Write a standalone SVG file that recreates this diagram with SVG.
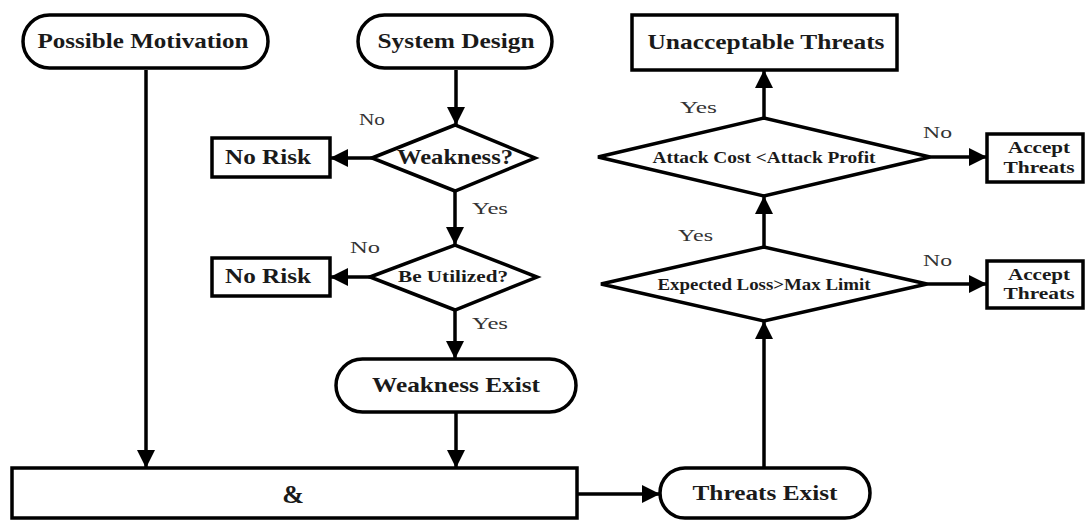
<svg xmlns="http://www.w3.org/2000/svg" width="1086" height="520" viewBox="0 0 1086 520">
<defs>
<marker id="ah" markerUnits="userSpaceOnUse" markerWidth="18" markerHeight="18" refX="16" refY="8" orient="auto" viewBox="0 0 16 16">
<path d="M0,0 L16,8 L0,16 z" fill="#000"/>
</marker>
<style>
.shape{fill:#fff;stroke:#000;stroke-width:3.5}
.conn{fill:none;stroke:#000;stroke-width:3.5;marker-end:url(#ah)}
.t{font-family:"Liberation Serif","Times New Roman",serif;font-weight:bold;fill:#1a1a1a;text-anchor:middle}
.b20{font-size:21px}
.b15{font-size:16px}
.b17{font-size:17px}
.lbl{font-family:"Liberation Serif","Times New Roman",serif;font-size:16px;fill:#333}
</style>
</defs>
<rect width="1086" height="520" fill="#fff"/>
<g id="connectors">
<line class="conn" x1="146" y1="70" x2="146" y2="468"/>
<line class="conn" x1="456" y1="70" x2="456" y2="125"/>
<line class="conn" x1="372" y1="158" x2="330" y2="158"/>
<line class="conn" x1="455" y1="191" x2="455" y2="245"/>
<line class="conn" x1="370" y1="277" x2="330" y2="277"/>
<line class="conn" x1="455" y1="310" x2="455" y2="359"/>
<line class="conn" x1="456" y1="412" x2="456" y2="468"/>
<line class="conn" x1="577" y1="494" x2="660" y2="494"/>
<line class="conn" x1="764" y1="468" x2="764" y2="321"/>
<line class="conn" x1="764" y1="247" x2="764" y2="196"/>
<line class="conn" x1="764" y1="118" x2="764" y2="70"/>
<line class="conn" x1="930" y1="157" x2="987" y2="157"/>
<line class="conn" x1="927" y1="284" x2="987" y2="284"/>
</g>
<g id="possible-motivation">
<rect class="shape" x="23" y="15" width="245" height="53" rx="26.5"/>
<text class="t b20" x="143" y="48" textLength="211" lengthAdjust="spacingAndGlyphs">Possible Motivation</text>
</g>
<g id="system-design">
<rect class="shape" x="358" y="15" width="194" height="53" rx="26.5"/>
<text class="t b20" x="456" y="48" textLength="157" lengthAdjust="spacingAndGlyphs">System Design</text>
</g>
<g id="weakness">
<polygon class="shape" points="372,158 455,125 535,158 455,191"/>
<text class="t b20" x="455" y="164" textLength="116" lengthAdjust="spacingAndGlyphs">Weakness?</text>
</g>
<g id="no-risk-1">
<rect class="shape" x="212" y="138" width="118" height="39"/>
<text class="t b20" x="268" y="164" textLength="86" lengthAdjust="spacingAndGlyphs">No Risk</text>
</g>
<g id="be-utilized">
<polygon class="shape" points="370,277 455,245 537,277 455,310"/>
<text class="t b15" x="453" y="282" textLength="110" lengthAdjust="spacingAndGlyphs">Be Utilized?</text>
</g>
<g id="no-risk-2">
<rect class="shape" x="212" y="258" width="118" height="38"/>
<text class="t b20" x="268" y="283" textLength="86" lengthAdjust="spacingAndGlyphs">No Risk</text>
</g>
<g id="weakness-exist">
<rect class="shape" x="336" y="359" width="240" height="53" rx="26.5"/>
<text class="t b20" x="456" y="392" textLength="168" lengthAdjust="spacingAndGlyphs">Weakness Exist</text>
</g>
<g id="and-box">
<rect class="shape" x="12" y="468" width="565" height="50"/>
<text class="t" style="font-size:26px" x="293" y="503">&amp;</text>
</g>
<g id="threats-exist">
<rect class="shape" x="660" y="468" width="210" height="50" rx="25"/>
<text class="t b20" x="765" y="500" textLength="145" lengthAdjust="spacingAndGlyphs">Threats Exist</text>
</g>
<g id="expected-loss">
<polygon class="shape" points="601,284 764,247 927,284 764,321"/>
<text class="t b15" x="764" y="290" textLength="213" lengthAdjust="spacingAndGlyphs">Expected Loss&gt;Max Limit</text>
</g>
<g id="attack-cost">
<polygon class="shape" points="598,157 764,118 930,157 764,196"/>
<text class="t b15" x="764" y="163" textLength="223" lengthAdjust="spacingAndGlyphs">Attack Cost &lt;Attack Profit</text>
</g>
<g id="unacceptable-threats">
<rect class="shape" x="632" y="15" width="265" height="55"/>
<text class="t b20" x="766" y="49" textLength="237" lengthAdjust="spacingAndGlyphs">Unacceptable Threats</text>
</g>
<g id="accept-threats-1">
<rect class="shape" x="987" y="134" width="96" height="48"/>
<text class="t b17" x="1039" y="153" textLength="62" lengthAdjust="spacingAndGlyphs">Accept</text>
<text class="t b17" x="1039" y="173" textLength="71" lengthAdjust="spacingAndGlyphs">Threats</text>
</g>
<g id="accept-threats-2">
<rect class="shape" x="987" y="261" width="96" height="47"/>
<text class="t b17" x="1039" y="280" textLength="62" lengthAdjust="spacingAndGlyphs">Accept</text>
<text class="t b17" x="1039" y="299" textLength="71" lengthAdjust="spacingAndGlyphs">Threats</text>
</g>
<g id="labels">
<text class="lbl" x="359" y="125" textLength="26" lengthAdjust="spacingAndGlyphs">No</text>
<text class="lbl" x="472" y="214" textLength="36" lengthAdjust="spacingAndGlyphs">Yes</text>
<text class="lbl" x="350" y="253" textLength="30" lengthAdjust="spacingAndGlyphs">No</text>
<text class="lbl" x="472" y="329" textLength="36" lengthAdjust="spacingAndGlyphs">Yes</text>
<text class="lbl" x="680" y="113" textLength="37" lengthAdjust="spacingAndGlyphs">Yes</text>
<text class="lbl" x="678" y="241" textLength="35" lengthAdjust="spacingAndGlyphs">Yes</text>
<text class="lbl" x="923" y="138" textLength="29" lengthAdjust="spacingAndGlyphs">No</text>
<text class="lbl" x="923" y="266" textLength="29" lengthAdjust="spacingAndGlyphs">No</text>
</g>
</svg>
